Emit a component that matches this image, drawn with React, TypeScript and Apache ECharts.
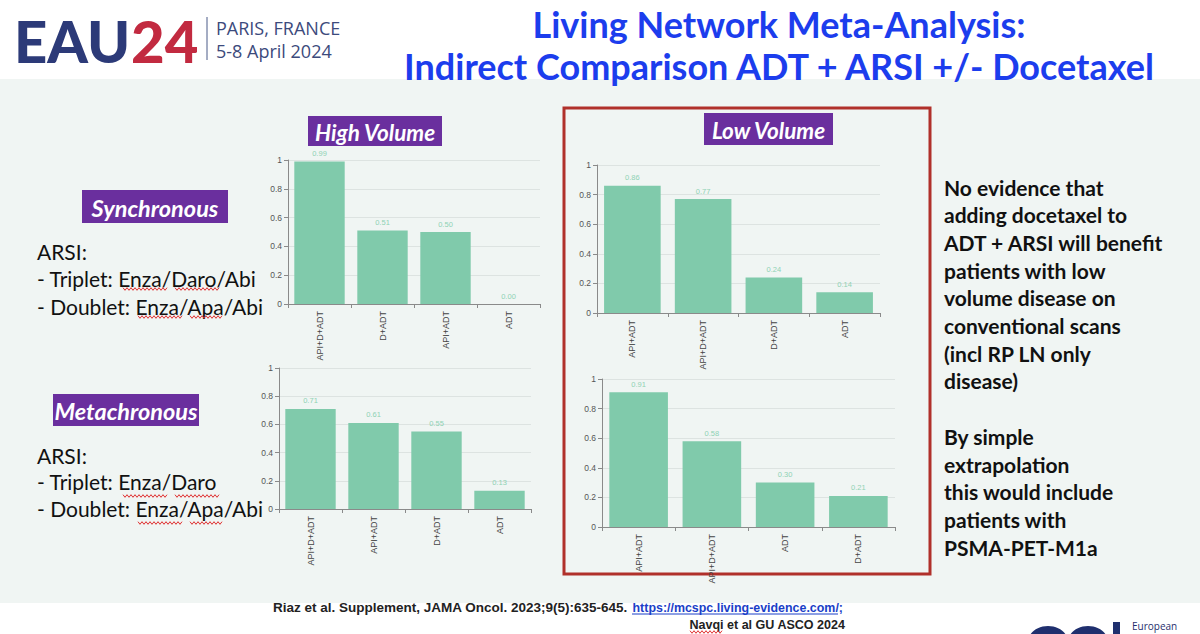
import React, { useEffect, useRef } from "react";
import * as echarts from "echarts";

// ---- data ----
const syncHighCats = ["API+D+ADT", "D+ADT", "API+ADT", "ADT"];
const syncHighVals = [0.99, 0.51, 0.5, 0.0];
const syncLowCats = ["API+ADT", "API+D+ADT", "D+ADT", "ADT"];
const syncLowVals = [0.86, 0.77, 0.24, 0.14];
const metaHighCats = ["API+D+ADT", "API+ADT", "D+ADT", "ADT"];
const metaHighVals = [0.71, 0.61, 0.55, 0.13];
const metaLowCats = ["API+ADT", "API+D+ADT", "ADT", "D+ADT"];
const metaLowVals = [0.91, 0.58, 0.3, 0.21];

const titleLines = ["Living Network Meta-Analysis:", "Indirect Comparison ADT + ARSI +/- Docetaxel"];
const syncLines = ["ARSI:", "- Triplet: Enza/Daro/Abi", "- Doublet: Enza/Apa/Abi"];
const metaLines = ["ARSI:", "- Triplet: Enza/Daro", "- Doublet: Enza/Apa/Abi"];
const noteLines = [
  "No evidence that",
  "adding docetaxel to",
  "ADT + ARSI will benefit",
  "patients with low",
  "volume disease on",
  "conventional scans",
  "(incl RP LN only",
  "disease)",
  "",
  "By simple",
  "extrapolation",
  "this would include",
  "patients with",
  "PSMA-PET-M1a",
];

const BAR = "#80caab";
const LABEL = "#8fd2b4";
const PURPLE = "#6a2f9e";
const NAVY = "#2c3a78";

const panels = [
  { cats: syncHighCats, vals: syncHighVals, grid: { left: 288, top: 160, width: 252, height: 144 } },
  { cats: syncLowCats, vals: syncLowVals, grid: { left: 597, top: 165, width: 283, height: 148 } },
  { cats: metaHighCats, vals: metaHighVals, grid: { left: 279, top: 368, width: 252, height: 141 } },
  { cats: metaLowCats, vals: metaLowVals, grid: { left: 602, top: 379, width: 293, height: 148 } },
];

function squiggle(x0: number, x1: number, y: number) {
  const pts: number[][] = [];
  let up = true;
  for (let x = x0; x <= x1; x += 2) {
    pts.push([x, y + (up ? -1.3 : 1.3)]);
    up = !up;
  }
  return {
    type: "polyline",
    shape: { points: pts },
    style: { stroke: "#e03030", lineWidth: 1, fill: null },
    silent: true,
  };
}

function badge(x: number, y: number, w: number, h: number, text: string, size: number) {
  return [
    { type: "rect", shape: { x, y, width: w, height: h }, style: { fill: PURPLE } },
    {
      type: "text",
      x: x + w / 2,
      y: y + h / 2 + 1,
      style: {
        text,
        fill: "#ffffff",
        fontFamily: "Lato",
        fontStyle: "italic",
        fontWeight: "bold",
        fontSize: size,
        align: "center",
        verticalAlign: "middle",
      },
    },
  ];
}

function textBlock(lines: string[], x: number, y0: number, step: number, opts: any) {
  return lines
    .map((t, i) => ({ t, i }))
    .filter((o) => o.t !== "")
    .map((o) => ({
      type: "text",
      x,
      y: y0 + o.i * step,
      style: { text: o.t, align: "left", verticalAlign: "middle", ...opts },
    }));
}

const footFont = { fontFamily: "Liberation Sans", fontWeight: "bold", fontSize: 13.5, verticalAlign: "middle" };

export default function App() {
  const ref = useRef<HTMLDivElement>(null);
  useEffect(() => {
    if (!ref.current) return;
    const chart = echarts.init(ref.current, undefined, { renderer: "svg" });

    const grids = panels.map((p) => ({ ...p.grid, containLabel: false }));
    const xAxes = panels.map((p, i) => ({
      type: "category",
      gridIndex: i,
      data: p.cats,
      axisLine: { lineStyle: { color: "#8a8a8a" } },
      axisTick: { show: true, length: 4, lineStyle: { color: "#8a8a8a" } },
      axisLabel: { rotate: 90, fontSize: 9, color: "#444", margin: 7, fontFamily: "Liberation Sans" },
    }));
    const yAxes = panels.map((p, i) => ({
      type: "value",
      gridIndex: i,
      min: 0,
      max: 1,
      interval: 0.2,
      axisLine: { show: true, lineStyle: { color: "#8a8a8a" } },
      axisTick: { show: true, length: 4, lineStyle: { color: "#8a8a8a" } },
      axisLabel: { fontSize: 8.5, color: "#555", margin: 6, fontFamily: "Liberation Sans" },
      splitLine: { lineStyle: { color: "#dde3e1" } },
    }));
    const series = panels.map((p, i) => ({
      type: "bar",
      xAxisIndex: i,
      yAxisIndex: i,
      data: p.vals,
      barCategoryGap: "20%",
      itemStyle: { color: BAR },
      label: {
        show: true,
        position: "top",
        fontSize: 7.5,
        color: LABEL,
        distance: 4,
        fontFamily: "Liberation Sans",
        formatter: (d: any) => Number(d.value).toFixed(2),
      },
    }));

    const graphics: any[] = [
      { type: "rect", z: -10, shape: { x: 0, y: 79, width: 1200, height: 524 }, style: { fill: "#f0f5f3" }, silent: true },
      // header logo
      { type: "text", x: 14, y: 40, style: { text: "EAU", fill: NAVY, fontFamily: "Lato", fontWeight: 900, fontSize: 58, align: "left", verticalAlign: "middle" } },
      { type: "text", x: 131, y: 40, style: { text: "24", fill: "#c22a40", fontFamily: "Lato", fontWeight: 900, fontSize: 58, align: "left", verticalAlign: "middle" } },
      { type: "line", shape: { x1: 207, y1: 17, x2: 207, y2: 60 }, style: { stroke: "#4a5a88", lineWidth: 1 } },
      { type: "text", x: 216, y: 28, style: { text: "PARIS, FRANCE", fill: "#3c4a7c", fontFamily: "Open Sans", fontSize: 18, align: "left", verticalAlign: "middle" } },
      { type: "text", x: 216, y: 51, style: { text: "5-8 April 2024", fill: "#3c4a7c", fontFamily: "Open Sans", fontSize: 18, align: "left", verticalAlign: "middle" } },
      // title
      ...titleLines.map((t, i) => ({
        type: "text",
        x: 779,
        y: 24 + i * 42,
        style: { text: t, fill: "#1c3ded", fontFamily: "Lato", fontWeight: "bold", fontSize: 36, align: "center", verticalAlign: "middle" },
      })),
      // badges
      ...badge(308, 116, 134, 30, "High Volume", 22.5),
      ...badge(704, 113, 129, 32, "Low Volume", 22.5),
      ...badge(82, 190, 146, 33, "Synchronous", 23.5),
      ...badge(53, 394, 146, 32, "Metachronous", 23.5),
      // left texts
      ...textBlock(syncLines, 37, 251, 27.5, { fill: "#111", fontFamily: "Lato", fontSize: 21 }),
      ...textBlock(metaLines, 37, 455, 26.5, { fill: "#111", fontFamily: "Lato", fontSize: 21 }),
      squiggle(123, 167, 289),
      squiggle(175, 220, 289),
      squiggle(138, 182, 317),
      squiggle(190, 222, 317),
      squiggle(123, 167, 496),
      squiggle(175, 220, 496),
      squiggle(138, 182, 523),
      squiggle(190, 222, 523),
      // red frame
      { type: "rect", shape: { x: 564, y: 108, width: 366, height: 466 }, style: { fill: null, stroke: "#b0302a", lineWidth: 3 } },
      // right note
      ...textBlock(noteLines, 944, 187, 27.7, { fill: "#111", fontFamily: "Lato", fontWeight: "bold", fontSize: 21 }),
      // footer
      { type: "text", x: 273, y: 607, style: { text: "Riaz et al. Supplement, JAMA Oncol. 2023;9(5):635-645.", fill: "#222", align: "left", ...footFont } },
      { type: "text", x: 843, y: 607, scaleX: 0.92, style: { text: "https://mcspc.living-evidence.com/;", fill: "#1b3fc8", align: "right", ...footFont } },
      { type: "line", shape: { x1: 632, y1: 614, x2: 838, y2: 614 }, style: { stroke: "#1b3fc8", lineWidth: 1 } },
      { type: "text", x: 845, y: 624, scaleX: 0.93, style: { text: "Navqi et al GU ASCO 2024", fill: "#222", align: "right", ...footFont } },
      squiggle(690, 722, 632),
      // bottom-right logo fragment
      { type: "ellipse", shape: { cx: 1048, cy: 642, rx: 20, ry: 16 }, style: { fill: "#1f2f6e" } },
      { type: "ellipse", shape: { cx: 1088, cy: 642, rx: 20, ry: 16 }, style: { fill: "#1f2f6e" } },
      { type: "rect", shape: { x: 1113, y: 622, width: 7, height: 14 }, style: { fill: "#1f2f6e" } },
      { type: "text", x: 1132, y: 626, style: { text: "European", fill: "#1f2f6e", fontFamily: "Open Sans", fontSize: 10, align: "left", verticalAlign: "middle" } },
    ];

    chart.setOption({
      animation: false,
      backgroundColor: "#ffffff",
      grid: grids,
      xAxis: xAxes,
      yAxis: yAxes,
      series,
      graphic: { elements: graphics },
    });
    return () => chart.dispose();
  }, []);
  return <div ref={ref} style={{ position: "fixed", left: 0, top: 0, width: 1200, height: 634 }} />;
}
